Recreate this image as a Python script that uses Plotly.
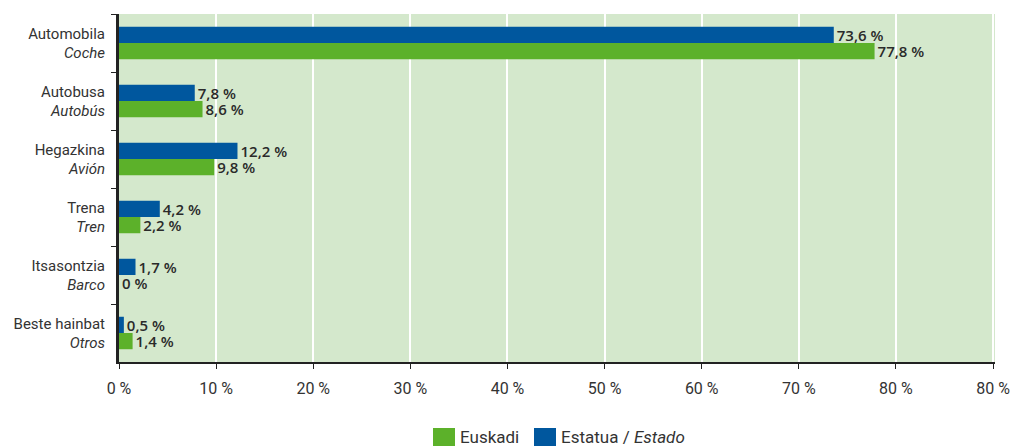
import plotly.graph_objects as go

categories = ["Automobila<br><i>Coche</i>", "Autobusa<br><i>Autobús</i>", "Hegazkina<br><i>Avión</i>",
              "Trena<br><i>Tren</i>", "Itsasontzia<br><i>Barco</i>", "Beste hainbat<br><i>Otros</i>"]
euskadi = [77.8, 8.6, 9.8, 2.2, 0, 1.4]
estatua = [73.6, 7.8, 12.2, 4.2, 1.7, 0.5]
x_ticks = [0, 10, 20, 30, 40, 50, 60, 70, 80, 90]
# the source chart labels its last tick "80 %" (kept as shown)
x_tick_text = ["0 %", "10 %", "20 %", "30 %", "40 %", "50 %", "60 %", "70 %", "80 %", "80 %"]
legend_names = ["Euskadi", "Estatua / <i>Estado</i>"]

def fmt(v):
    return "0 %" if v == 0 else f"{v:.1f}".replace(".", ",") + " %"

BLUE = "#00579e"
GREEN = "#5cb12a"
lab_font = dict(family="Open Sans", size=15, color="#2a2a2a", weight=600)
TXT = "Roboto"

fig = go.Figure()
fig.add_trace(go.Bar(y=categories, x=estatua, orientation="h", name=legend_names[1],
                     marker=dict(color=BLUE, line_width=0), text=[fmt(v) for v in estatua],
                     textposition="outside", textfont=lab_font, constraintext="none",
                     cliponaxis=False, showlegend=False))
fig.add_trace(go.Bar(y=categories, x=euskadi, orientation="h", name=legend_names[0],
                     marker=dict(color=GREEN, line_width=0), text=[fmt(v) for v in euskadi],
                     textposition="outside", textfont=lab_font, constraintext="none",
                     cliponaxis=False, showlegend=False))

# page body has an 8px margin: work in screen pixels and shift by OFF
OFF = 8
L, R, T, B = 119 - OFF, 995 - OFF, 14 - OFF, 362 - OFF
W, H = R - L, B - T
def px(x): return (x - OFF - L) / W
def py(y): return (B - (y - OFF)) / H
for x0, col, name in [(433, GREEN, legend_names[0]), (534, BLUE, legend_names[1])]:
    fig.add_shape(type="rect", xref="paper", yref="paper", x0=px(x0), x1=px(x0 + 22),
                  y0=py(447), y1=py(428), fillcolor=col, line_width=0)
    fig.add_annotation(xref="paper", yref="paper", x=px(x0 + 25), y=py(437), text=name,
                       showarrow=False, xanchor="left", yanchor="middle",
                       font=dict(family=TXT, size=17, color="#333"))

fig.update_layout(
    width=1018, height=446,
    margin=dict(l=L, r=1018 - R, t=T, b=446 - B),
    barmode="group", bargap=0.44, bargroupgap=0,
    plot_bgcolor="#d4e8cc", paper_bgcolor="white",
    font=dict(family=TXT, size=15, color="#333"),
    showlegend=False,
)
fig.update_xaxes(range=[0, 90.2], tickvals=x_ticks, ticktext=x_tick_text, showgrid=True, gridcolor="white",
                 gridwidth=1.5, zeroline=False, showline=True, linecolor="#222", linewidth=2,
                 ticks="outside", ticklen=5, tickcolor="#222", tickfont=dict(size=16, color="#333"),
                 ticklabelstandoff=6, automargin=False)
fig.update_yaxes(autorange="reversed", showgrid=False, showline=True, linecolor="#222", linewidth=3,
                 ticks="outside", ticklen=5, tickcolor="#222", tickson="boundaries",
                 tickfont=dict(size=15, color="#333"), ticklabelstandoff=8, automargin=False)

fig.write_html("out.html")
